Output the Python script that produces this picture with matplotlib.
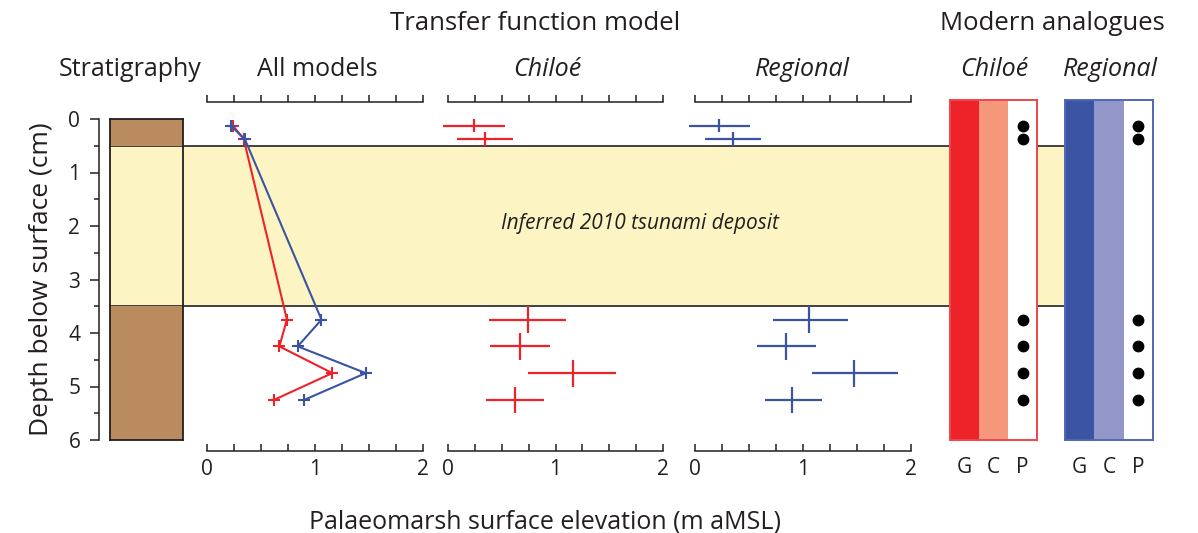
import numpy as np
import matplotlib.pyplot as plt
from matplotlib.ticker import MultipleLocator

plt.rcParams['font.family'] = ['Open Sans', 'DejaVu Sans']

# sample depths (cm) and half thickness of each sample
depth = [0.125, 0.375, 3.75, 4.25, 4.75, 5.25]
depth_half = [0.125, 0.125, 0.25, 0.25, 0.25, 0.25]

# reconstructed elevations (m aMSL)
chiloe_mean = [0.24, 0.34, 0.74, 0.67, 1.16, 0.62]
chiloe_lo = [-0.05, 0.08, 0.38, 0.39, 0.74, 0.35]
chiloe_hi = [0.53, 0.60, 1.10, 0.95, 1.56, 0.89]
regional_mean = [0.22, 0.35, 1.06, 0.84, 1.47, 0.90]
regional_lo = [-0.06, 0.09, 0.72, 0.57, 1.08, 0.65]
regional_hi = [0.51, 0.61, 1.42, 1.12, 1.88, 1.18]

# stratigraphy units (top, bottom, type)
unit_top = [0.0, 0.5, 3.5]
unit_bot = [0.5, 3.5, 6.0]
unit_type = ['peat', 'sand', 'peat']
deposit_top, deposit_bot = 0.5, 3.5

analogue_cols = ['G', 'C', 'P']

RED = '#ee2229'
RED_L = '#f4977a'
BLUE = '#3a54a3'
BLUE_L = '#9396c9'
BROWN = '#b98b5e'
YELLOW = '#fcf5c3'
INK = '#231f20'

W, H = 1198, 533
fig = plt.figure(figsize=(W / 100, H / 100), dpi=100)


def box(l, t, r, b):
    return [l / W, 1 - b / H, (r - l) / W, (b - t) / H]


# depth axis and the tsunami deposit band
ax_d = fig.add_axes(box(99, 119, 1065, 440))
ax_d.set_xlim(0, 1)
ax_d.set_ylim(6, 0)
ax_d.patch.set_visible(False)
for s in ['top', 'right', 'bottom']:
    ax_d.spines[s].set_visible(False)
ax_d.spines['left'].set_color(INK)
ax_d.spines['left'].set_linewidth(1.1)
ax_d.set_xticks([])
ax_d.yaxis.set_major_locator(MultipleLocator(1))
ax_d.yaxis.set_minor_locator(MultipleLocator(0.5))
ax_d.tick_params(axis='y', which='major', length=6.5, width=1.1, color=INK,
                 labelsize=15, labelcolor=INK, pad=7)
ax_d.tick_params(axis='y', which='minor', length=3.5, width=1.1, color=INK)
ax_d.set_ylabel('Depth below surface (cm)', fontsize=19, color=INK, labelpad=10)
x0 = (110 - 99) / (1065 - 99)
ax_d.axhspan(deposit_top, deposit_bot, xmin=x0, xmax=1, color=YELLOW, lw=0, zorder=0)
for yy in [deposit_top, deposit_bot]:
    ax_d.axhline(yy, xmin=x0, xmax=1, color='#333333', lw=1.3, zorder=1)
ax_d.text(0.56, (deposit_top + deposit_bot) / 2 - 0.05, 'Inferred 2010 tsunami deposit',
          ha='center', va='center', fontsize=15, style='italic', color=INK)

# stratigraphy column
ax_s = fig.add_axes(box(110, 119, 183, 440))
ax_s.set_xlim(0, 1)
ax_s.set_ylim(6, 0)
ax_s.patch.set_visible(False)
for t, b, k in zip(unit_top, unit_bot, unit_type):
    if k == 'peat':
        ax_s.axhspan(t, b, color=BROWN, lw=0)
for s in ax_s.spines.values():
    s.set_color(INK)
    s.set_linewidth(1.3)
ax_s.set_xticks([])
ax_s.set_yticks([])


def panel(l, r):
    ax = fig.add_axes(box(l, 119, r, 440))
    ax.patch.set_visible(False)
    ax.set_xlim(0, 2)
    ax.set_ylim(6, 0)
    ax.spines['left'].set_visible(False)
    ax.spines['right'].set_visible(False)
    ax.spines['top'].set_position(('outward', 12.5))
    ax.spines['bottom'].set_position(('outward', 8))
    for s in ['top', 'bottom']:
        ax.spines[s].set_color(INK)
        ax.spines[s].set_linewidth(1.1)
    ax.set_yticks([])
    ax.xaxis.set_major_locator(MultipleLocator(1))
    ax.xaxis.set_minor_locator(MultipleLocator(0.25))
    ax.tick_params(axis='x', which='both', top=True, bottom=True, labeltop=False,
                   direction='in', length=5, width=1.1, color=INK, labelsize=15,
                   labelcolor=INK, pad=6)
    return ax


def ticks_up(ax):
    # ticks point up on both the top and the bottom line
    for tl in ax.xaxis.get_major_ticks() + ax.xaxis.get_minor_ticks():
        tl.tick1line.set_marker(2)
        tl.tick2line.set_marker(2)


ax_a = panel(207, 423)
ax_a.plot(chiloe_mean, depth, color=RED, lw=1.5, marker='+', ms=9, mew=1.5, zorder=3)
ax_a.plot(regional_mean, depth, color=BLUE, lw=1.5, marker='+', ms=9, mew=1.5, zorder=3)
ticks_up(ax_a)

for l, r, mean, lo, hi, col in [(448, 663, chiloe_mean, chiloe_lo, chiloe_hi, RED),
                                (695, 911, regional_mean, regional_lo, regional_hi, BLUE)]:
    ax = panel(l, r)
    mean = np.array(mean)
    xerr = [mean - np.array(lo), np.array(hi) - mean]
    ax.errorbar(mean, depth, xerr=xerr, yerr=depth_half, fmt='none', ecolor=col,
                elinewidth=1.6, capsize=0, clip_on=False)
    ticks_up(ax)

# modern analogue columns
y_top_px = 100
span = 6 * (440 - y_top_px) / (440 - 119)


def analogue(l, r, dark, light, edge):
    ax = fig.add_axes(box(l, y_top_px, r, 440))
    ax.set_xlim(0, 3)
    ax.set_ylim(6, 6 - span)
    ax.axvspan(0, 1, color=dark, lw=0)
    ax.axvspan(1, 2, color=light, lw=0)
    ax.axvspan(2, 3, color='white', lw=0)
    ax.plot([2.5] * len(depth), depth, 'o', color='black', ms=7.5)
    for s in ax.spines.values():
        s.set_color(edge)
        s.set_linewidth(1.4)
    ax.set_yticks([])
    ax.set_xticks([0.5, 1.5, 2.5])
    ax.set_xticklabels(analogue_cols)
    ax.tick_params(axis='x', length=0, labelsize=15, labelcolor=INK, pad=12)
    return ax


analogue(950, 1037, RED, RED_L, '#f0454a')
analogue(1065, 1153, BLUE, BLUE_L, '#5068b3')

# headings
fig.text(535 / W, 1 - 24 / H, 'Transfer function model', ha='center', va='center',
         fontsize=18.5, color=INK)
fig.text(1052 / W, 1 - 24 / H, 'Modern analogues', ha='center', va='center',
         fontsize=18.5, color=INK)
for x, s, it in [(130, 'Stratigraphy', False), (317, 'All models', False),
                 (547, 'Chiloé', True), (802, 'Regional', True),
                 (994, 'Chiloé', True), (1110, 'Regional', True)]:
    fig.text(x / W, 1 - 69 / H, s, ha='center', va='center', fontsize=18,
             style='italic' if it else 'normal', color=INK)
fig.text(545 / W, 1 - 522 / H, 'Palaeomarsh surface elevation (m aMSL)', ha='center',
         va='center', fontsize=18, color=INK)

fig.savefig('out.png', dpi=100)
